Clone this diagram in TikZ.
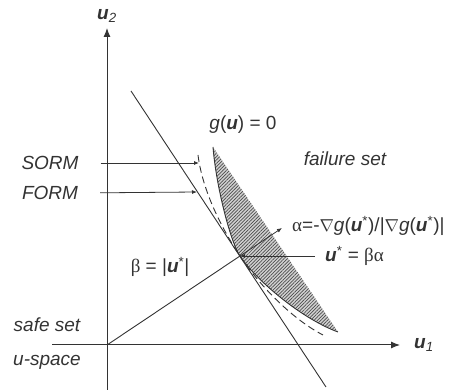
\documentclass[tikz,border=0pt]{standalone}
\usepackage{fontspec}
\setmainfont{Liberation Sans}
\newfontfamily\greekfont{Liberation Serif}
\usetikzlibrary{arrows.meta,positioning,patterns.meta}
\definecolor{ink}{HTML}{333333}
\newcommand{\bu}{\textbf{\textit{u}}}
\newcommand{\gr}[1]{{\greekfont\upshape #1}}
\newcommand{\nab}{$\nabla$}

\begin{document}
\begin{tikzpicture}[x=1pt, y=-1pt,
  axis/.style={-{Latex[length=9pt,width=7pt]}, line width=1pt, draw=ink},
  curve/.style={line width=0.9pt, draw=ink},
  pointer/.style={-{Latex[length=5pt,width=4pt]}, line width=0.8pt, draw=ink},
  label/.style={font=\fontsize{19}{22}\selectfont\itshape, text=ink, inner sep=0pt},
  plain/.style={font=\fontsize{19}{22}\selectfont, text=ink, inner sep=0pt},
]
\useasboundingbox (0,0) rectangle (451,390);

% Points
\coordinate (O) at (107,345);
\coordinate (ustar) at (240,256);
\coordinate (gtop) at (213,147);
\coordinate (gbot) at (338,332);
\coordinate (formtop) at (131,91);
\coordinate (formbot) at (326,387);
\coordinate (sormpt) at (199,163);
\coordinate (formpt) at (197,192);
\coordinate (alphatip) at (282,228);

% Failure set
\fill[gray!35] (gtop) .. controls (216,185) and (230,241) .. (ustar)
  .. controls (255,279) and (300,318) .. (gbot) -- cycle;
\fill[pattern={Lines[angle=45, distance=2.4pt, line width=0.7pt]}, pattern color=gray!60!black]
  (gtop) .. controls (216,185) and (230,241) .. (ustar)
  .. controls (255,279) and (300,318) .. (gbot) -- cycle;
\draw[curve] (gtop) .. controls (216,185) and (230,241) .. (ustar)
  .. controls (255,279) and (300,318) .. (gbot);

% SORM and FORM
\draw[curve, dashed, dash pattern=on 7pt off 4pt] (198,155) .. controls (203,195) and (226,235) .. (ustar)
  .. controls (257,282) and (290,318) .. (323,335);
\draw[curve] (formtop) -- (formbot);

% Axes
\draw[axis] (107,390) -- (107,28) coordinate (u2tip);
\draw[axis] (52,345) -- (400,345) coordinate (u1tip);
\node[label, above=5pt of u2tip] {\bu\textsubscript{\textit{2}}};
\node[label, right=14pt of u1tip] {\bu\textsubscript{\textit{1}}};

% Nodes
\node[label] (sorm) at (50,163) {SORM};
\node[label] (form) at (50,193) {FORM};
\node[plain] (gzero) at (243,125) {\textit{g}(\bu) = 0};
\node[label] (fail) at (345,159) {failure set};
\node[label] (safe) at (47,325) {safe set};
\node[label] (space) at (47,362) {u-space};
\node[plain] (beta) at (160,267) {\gr{β} = |\bu\textsuperscript{*}|};
\node[plain, anchor=west] (alpha) at (292,226) {\gr{α}=-\nab\textit{g}(\bu\textsuperscript{*})/|\nab\textit{g}(\bu\textsuperscript{*})|};
\node[plain, anchor=west] (ulbl) at (325,256) {\bu\textsuperscript{*} = \gr{βα}};

% Arrows
\draw[pointer, shorten <=22pt] (sorm.east) -- (sormpt);
\draw[pointer, shorten <=22pt] (form.east) -- (formpt);
\draw[curve] (O) -- (ustar);
\draw[pointer] (ustar) -- (alphatip);
\draw[pointer, shorten <=10pt] (ulbl.west) -- (ustar);
\end{tikzpicture}
\end{document}
